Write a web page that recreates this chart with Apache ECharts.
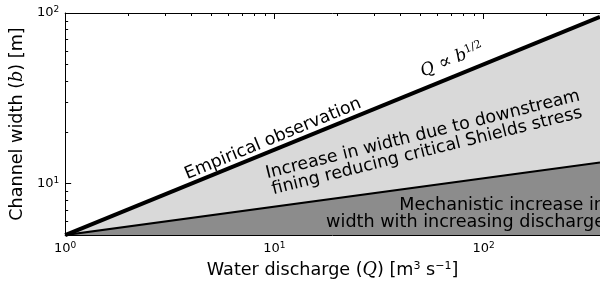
<!DOCTYPE html>
<html>
<head>
<meta charset="utf-8">
<script src="https://cdn.jsdelivr.net/npm/echarts@6/dist/echarts.min.js"></script>
<style>
  html, body { margin: 0; padding: 0; background: #fff; }
  #chart { width: 600px; height: 284px; }
</style>
</head>
<body>
<div id="chart"></div>
<script>
// water discharge Q [m3/s] at both ends of the trend lines
let discharge = [1, 360];
// empirical observation, b grows like Q^(1/2)
let widthEmpirical = [5, 94.9];
// mechanistic, b grows like Q^(1/6)
let widthMechanistic = [5, 13.3];

let majorTicksX = [1, 10, 100];
let minorTicksX = [2, 3, 4, 5, 6, 7, 8, 9, 20, 30, 40, 50, 60, 70, 80, 90, 200, 300];
let majorTicksY = [10, 100];
let minorTicksY = [6, 7, 8, 9, 20, 30, 40, 50, 60, 70, 80, 90];

let font = 'DejaVu Sans';
let deg = Math.PI / 180;

function pairs(xs, ys) {
  return xs.map((x, i) => [x, ys[i]]);
}

function powLabel(v) {
  return '10{sup|' + Math.round(Math.log10(v)) + '}';
}

let labelRich = {
  sup: { fontSize: 9, fontFamily: font, color: '#000', padding: [0, 0, 7, 0] }
};

// one log axis, only used for ticks (and optionally line/labels)
function logAxis(pos, min, max, ticks, len, extra) {
  let ax = {
    type: 'log',
    logBase: 10,
    position: pos,
    min: min,
    max: max,
    gridIndex: 0,
    axisLine: { show: false },
    axisTick: { show: true, inside: true, length: len, customValues: ticks, lineStyle: { color: '#000', width: 1 } },
    axisLabel: { show: false },
    splitLine: { show: false },
    minorTick: { show: false }
  };
  return Object.assign(ax, extra || {});
}

let myChart = echarts.init(document.getElementById('chart'), null, { renderer: 'canvas' });

let option = {
  animation: false,
  backgroundColor: '#fff',
  grid: { left: 63.5, right: 0, top: 13, bottom: 46, containLabel: false },
  xAxis: [
    logAxis('bottom', 1, 360, majorTicksX, 6, {
      axisLine: { show: true, lineStyle: { color: '#000', width: 1 } },
      axisLabel: {
        show: true, customValues: majorTicksX, margin: 6,
        fontFamily: font, fontSize: 13, color: '#000',
        formatter: powLabel, rich: labelRich
      },
      name: 'Water discharge ({it|Q}) [m{sup|3} s{sup|−1}]',
      nameLocation: 'middle',
      nameGap: 23,
      nameTextStyle: {
        fontFamily: font, fontSize: 17.6, color: '#000',
        rich: {
          it: { fontFamily: 'DejaVu Serif', fontStyle: 'italic', fontSize: 17.6, color: '#000' },
          sup: { fontFamily: font, fontSize: 11, color: '#000', padding: [0, 0, 8, 0] }
        }
      }
    }),
    logAxis('bottom', 1, 360, minorTicksX, 3),
    logAxis('top', 1, 360, majorTicksX, 6, {
      axisLine: { show: true, lineStyle: { color: '#000', width: 1 } }
    }),
    logAxis('top', 1, 360, minorTicksX, 3)
  ],
  yAxis: [
    logAxis('left', 5, 100, majorTicksY, 6, {
      axisLine: { show: true, lineStyle: { color: '#000', width: 1 } },
      axisLabel: {
        show: true, customValues: majorTicksY, margin: 6,
        fontFamily: font, fontSize: 13, color: '#000',
        formatter: powLabel, rich: labelRich
      },
      name: 'Channel width ({it|b}) [m]',
      nameLocation: 'middle',
      nameRotate: 90,
      nameGap: 25,
      nameTextStyle: {
        fontFamily: font, fontSize: 17.6, color: '#000',
        rich: {
          it: { fontFamily: 'DejaVu Serif', fontStyle: 'italic', fontSize: 17.6, color: '#000' }
        }
      }
    }),
    logAxis('left', 5, 100, minorTicksY, 3)
  ],
  series: [
    {
      // light band up to the empirical line
      type: 'line',
      data: pairs(discharge, widthEmpirical),
      symbol: 'none',
      lineStyle: { width: 0 },
      areaStyle: { color: '#d9d9d9', opacity: 1, origin: 'start' },
      z: 1
    },
    {
      // dark band below the mechanistic line
      type: 'line',
      data: pairs(discharge, widthMechanistic),
      symbol: 'none',
      lineStyle: { color: '#000', width: 2 },
      areaStyle: { color: '#8c8c8c', opacity: 1, origin: 'start' },
      z: 2
    },
    {
      type: 'line',
      data: pairs(discharge, widthEmpirical),
      symbol: 'none',
      lineStyle: { color: '#000', width: 4 },
      z: 3
    }
  ],
  graphic: [
    {
      type: 'text', x: 273, y: 139, rotation: 22.4 * deg, z: 10,
      style: {
        text: 'Empirical observation', x: 0, y: 0,
        align: 'center', verticalAlign: 'middle', textAlign: 'center', textVerticalAlign: 'middle',
        font: '17.4px "DejaVu Sans"', fill: '#000'
      }
    },
    {
      type: 'text', x: 452, y: 60, rotation: 22.4 * deg, z: 10,
      style: {
        text: '{it|Q} {op|∝} {it|b}{sup|1/2}', x: 0, y: 0,
        align: 'center', verticalAlign: 'middle', textAlign: 'center', textVerticalAlign: 'middle',
        fill: '#000',
        rich: {
          it: { fontFamily: 'DejaVu Serif', fontStyle: 'italic', fontSize: 17, fill: '#000' },
          op: { fontFamily: 'DejaVu Serif', fontSize: 19, fill: '#000' },
          sup: { fontFamily: 'DejaVu Serif', fontSize: 11, fill: '#000', padding: [0, 0, 8, 0] }
        },
        font: '17px "DejaVu Serif"'
      }
    },
    {
      type: 'text', x: 425, y: 143, rotation: 14 * deg, z: 10,
      style: {
        text: 'Increase in width due to downstream\nfining reducing critical Shields stress', x: 0, y: 0,
        align: 'center', verticalAlign: 'middle', textAlign: 'center', textVerticalAlign: 'middle',
        font: '17.4px "DejaVu Sans"', lineHeight: 17, fill: '#000'
      }
    },
    {
      type: 'text', x: 605, y: 214, z: 10,
      style: {
        text: 'Mechanistic increase in\nwidth with increasing discharge', x: 0, y: 0,
        align: 'right', verticalAlign: 'middle', textAlign: 'right', textVerticalAlign: 'middle',
        font: '17.6px "DejaVu Sans"', lineHeight: 17, fill: '#000'
      }
    }
  ]
};

myChart.setOption(option, true);

window.addEventListener('resize', () => {
  myChart.resize();
});
</script>
</body>
</html>
